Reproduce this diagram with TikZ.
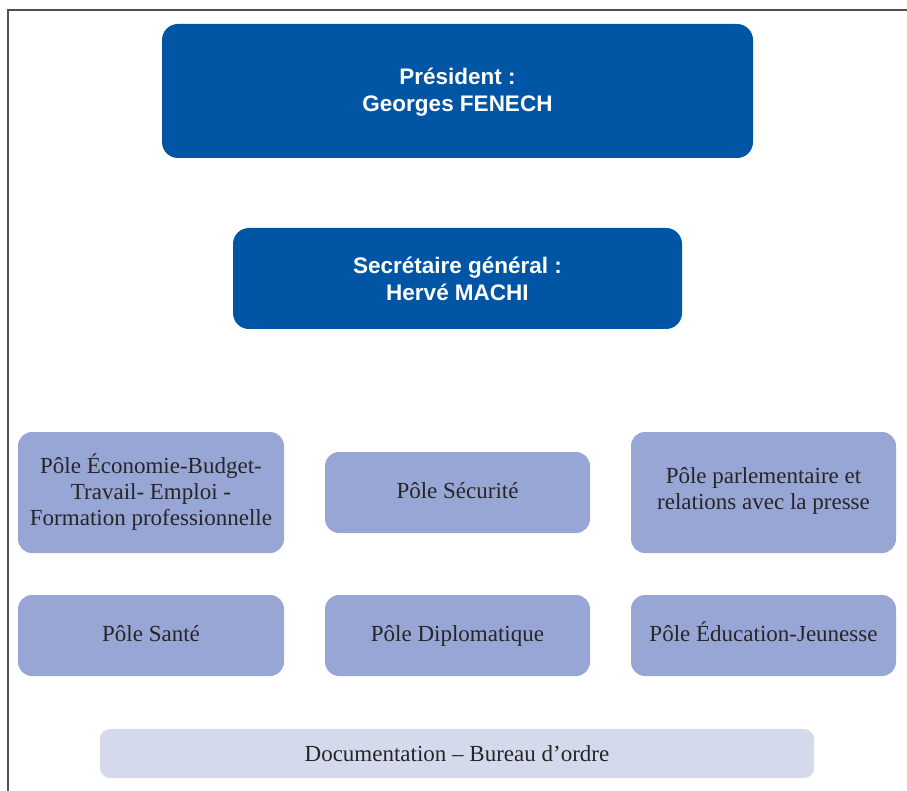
\documentclass[tikz,border=0pt]{standalone}
\usepackage{fontspec}
\setmainfont{Liberation Serif}
\newfontfamily\hdfont{Liberation Sans}
\definecolor{darkblue}{RGB}{0,85,165}
\definecolor{midblue}{RGB}{151,166,213}
\definecolor{lightblue}{RGB}{212,217,236}
\definecolor{framegray}{RGB}{80,80,80}
\begin{document}
\begin{tikzpicture}[x=1pt,y=-1pt,
  headbox/.style={fill=darkblue,rounded corners=16pt,text=white,font=\hdfont\bfseries\fontsize{22.5}{27}\selectfont,align=center},
  polebox/.style={fill=midblue,rounded corners=14pt,text=black!85,font=\fontsize{23}{26}\selectfont,align=center},
  docbox/.style={fill=lightblue,rounded corners=10pt,text=black!85,font=\fontsize{23}{26}\selectfont,align=center},
  oneline/.style={anchor=base}]
\useasboundingbox (0,0) rectangle (907,791);
\draw[framegray,line width=1.2pt] (8,791) -- (8,10) -- (907,10);
\fill[headbox] (162,24) rectangle (753,158);
\node[headbox] (pres) at (457.5,92) {Président :\\Georges FENECH};
\fill[headbox] (233,228) rectangle (682,329);
\node[headbox] (sec) at (457.5,279) {Secrétaire général :\\Hervé MACHI};
\fill[polebox] (18,432) rectangle (284,553);
\node[polebox] (eco) at (151,492) {Pôle Économie-Budget-\\Travail- Emploi -\\Formation professionnelle};
\fill[polebox] (325,452) rectangle (590,533);
\node[polebox,oneline] (secu) at (457.5,498) {Pôle Sécurité};
\fill[polebox] (631,432) rectangle (896,553);
\node[polebox] (parl) at (763.5,491) {Pôle parlementaire et\\relations avec la presse};
\fill[polebox] (18,595) rectangle (284,676);
\node[polebox,oneline] (sante) at (151,641) {Pôle Santé};
\fill[polebox] (325,595) rectangle (590,676);
\node[polebox,oneline] (diplo) at (457.5,641) {Pôle Diplomatique};
\fill[polebox] (631,595) rectangle (896,676);
\node[polebox,oneline] (educ) at (763.5,641) {Pôle Éducation-Jeunesse};
\fill[docbox] (100,729) rectangle (814,778);
\node[docbox,oneline] (doc) at (457,761) {Documentation – Bureau d’ordre};
\end{tikzpicture}
\end{document}
